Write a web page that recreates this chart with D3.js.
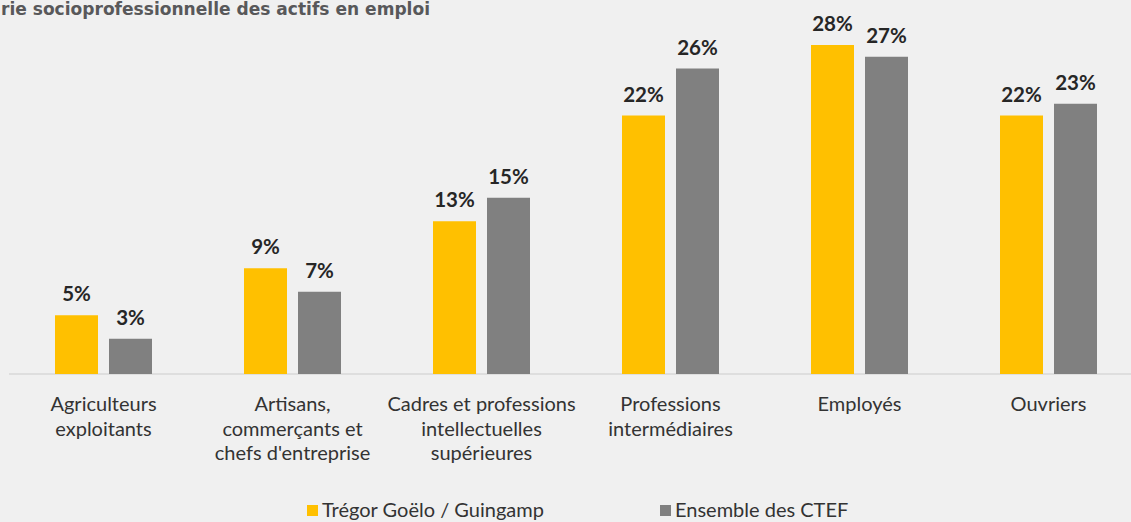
<!DOCTYPE html>
<html>
<head>
<meta charset="utf-8">
<script src="https://cdn.jsdelivr.net/npm/d3@7"></script>
<style>
  body { margin: 0; background: #f0f0f0; }
  svg { display: block; }
</style>
</head>
<body>
<div id="viz-container"></div>
<script>
// categories (one line per entry)
var categories = [
  ["Agriculteurs", "exploitants"],
  ["Artisans,", "commerçants et", "chefs d'entreprise"],
  ["Cadres et professions", "intellectuelles", "supérieures"],
  ["Professions", "intermédiaires"],
  ["Employés"],
  ["Ouvriers"]
];
var seriesNames = ["Trégor Goëlo / Guingamp", "Ensemble des CTEF"];
var tregor = [5, 9, 13, 22, 28, 22];
var ctef = [3, 7, 15, 26, 27, 23];
var colors = ["#ffc000", "#808080"];

var W = 1131, H = 522;
var viz = d3.select("#viz-container")
  .append("svg")
    .attr("width", W)
    .attr("height", H);

// title (cut at left edge like the source)
viz.append("text")
  .attr("x", 1)
  .attr("y", 15)
  .attr("font-family", "DejaVu Sans Condensed, DejaVu Sans")
  .attr("font-weight", "bold")
  .attr("font-size", 18)
  .attr("fill", "#58585a")
  .attr("textLength", 429)
  .attr("lengthAdjust", "spacingAndGlyphs")
  .text("rie socioprofessionnelle des actifs en emploi");

var x = d3.scaleBand()
  .domain(d3.range(categories.length))
  .range([9, 1143])
  .paddingInner(0)
  .paddingOuter(0);

var xs = d3.scaleBand()
  .domain([0, 1])
  .range([0, 97])
  .paddingInner(11 / 54);

var y = d3.scaleLinear()
  .domain([0, 28])
  .range([374, 45]);

// baseline
viz.append("line")
  .attr("x1", 9).attr("x2", W)
  .attr("y1", y(0)).attr("y2", y(0))
  .attr("stroke", "#d9d9d9")
  .attr("stroke-width", 1.5);

var rows = [];
categories.forEach(function(c, i) {
  rows.push({cat: i, s: 0, v: tregor[i]});
  rows.push({cat: i, s: 1, v: ctef[i]});
});

function barX(d) {
  return x(d.cat) + (x.bandwidth() - 97) / 2 + xs(d.s);
}

viz.selectAll(".bar").data(rows).enter()
  .append("rect")
  .attr("class", "bar")
  .attr("x", barX)
  .attr("y", function(d) { return y(d.v); })
  .attr("width", xs.bandwidth())
  .attr("height", function(d) { return y(0) - y(d.v); })
  .attr("fill", function(d) { return colors[d.s]; });

viz.selectAll(".val").data(rows).enter()
  .append("text")
  .attr("class", "val")
  .attr("x", function(d) { return barX(d) + xs.bandwidth() / 2; })
  .attr("y", function(d) { return y(d.v) - 14; })
  .attr("text-anchor", "middle")
  .attr("font-family", "Lato, sans-serif")
  .attr("font-weight", "bold")
  .attr("font-size", 20.5)
  .attr("fill", "#262626")
  .text(function(d) { return d.v + "%"; });

// category labels
var labels = viz.selectAll(".cat").data(categories).enter()
  .append("text")
  .attr("class", "cat")
  .attr("text-anchor", "middle")
  .attr("font-family", "Lato, sans-serif")
  .attr("font-size", 20)
  .attr("fill", "#333333");

labels.selectAll("tspan").data(function(d, i) {
    return d.map(function(t) { return {t: t, i: i}; });
  }).enter()
  .append("tspan")
  .attr("x", function(d) { return x(d.i) + x.bandwidth() / 2; })
  .attr("y", function(d, j) { return 411 + j * 24.5; })
  .text(function(d) { return d.t; });

// legend
var legendX = [307, 660];
var legend = viz.selectAll(".leg").data(seriesNames).enter()
  .append("g")
  .attr("class", "leg")
  .attr("transform", function(d, i) { return "translate(" + legendX[i] + ",505)"; });

legend.append("rect")
  .attr("width", 11)
  .attr("height", 11)
  .attr("fill", function(d, i) { return colors[i]; });

legend.append("text")
  .attr("x", 15)
  .attr("y", 12)
  .attr("font-family", "Lato, sans-serif")
  .attr("font-size", 20)
  .attr("fill", "#333333")
  .text(function(d) { return d; });
</script>
</body>
</html>
